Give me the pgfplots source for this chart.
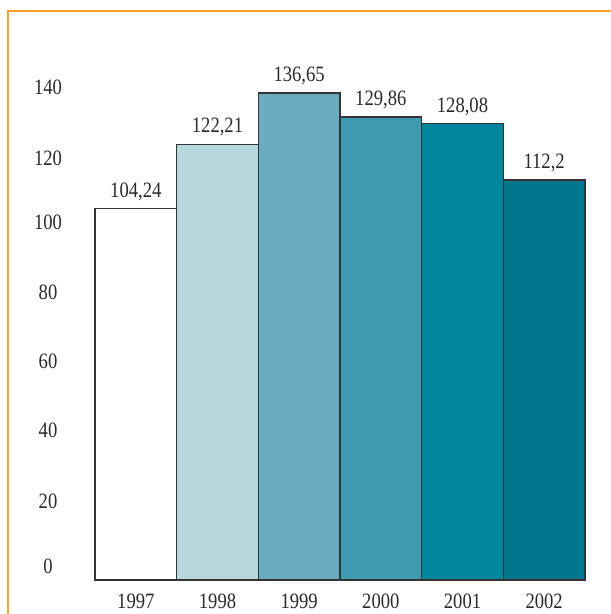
\documentclass[border=0pt]{standalone}
\usepackage{fontspec}
\setmainfont[FakeStretch=0.85]{Liberation Serif}
\usepackage{pgfplots}
\pgfplotsset{compat=1.18}
\definecolor{c1}{HTML}{FFFFFF}
\definecolor{c2}{HTML}{B8D8E0}
\definecolor{c3}{HTML}{6AADC0}
\definecolor{c4}{HTML}{3F9BB1}
\definecolor{c5}{HTML}{0087A0}
\definecolor{c6}{HTML}{00778C}
\definecolor{frameor}{HTML}{F7A12E}
\definecolor{txt}{HTML}{2A2A2A}
\definecolor{edge}{HTML}{333333}
\begin{document}
\fontsize{22}{24}\selectfont
\begin{tikzpicture}
\useasboundingbox (0,0) rectangle (611bp,614bp);
\draw[frameor, line width=2.5bp] (8bp,-10bp) -- (8bp,603bp) -- (630bp,603bp);
\begin{axis}[
  at={(95bp,34bp)}, anchor=south west,
  scale only axis, width=490bp, height=499bp,
  xmin=-0.5, xmax=5.5, ymin=0, ymax=140,
  axis line style={draw=none},
  major tick length=0pt,
  xtick={0,1,2,3,4,5},
  xticklabels={1997,1998,1999,2000,2001,2002},
  ytick={3.9,22.2,42.1,61.4,80.8,100.4,118.4,138.3},
  yticklabels={0,20,40,60,80,100,120,140},
  xticklabel style={anchor=center, yshift=-21bp, text=txt},
  yticklabel style={anchor=center, xshift=-47bp, text=txt},
  /pgf/number format/assume math mode=true,
  every axis plot/.append style={ybar, bar width=81.6bp, bar shift=0pt, draw=edge, line width=1.3bp},
  nodes near coords={\pgfmathprintnumber[use comma, precision=2]{\pgfplotspointmeta}},
  every node near coord/.append style={anchor=center, yshift=17bp, text=txt, /pgf/number format/assume math mode=true},
  clip=false,
]
\addplot[fill=c1] coordinates {(0,104.24)};
\addplot[fill=c2] coordinates {(1,122.21)};
\addplot[fill=c3] coordinates {(2,136.65)};
\addplot[fill=c4] coordinates {(3,129.86)};
\addplot[fill=c5] coordinates {(4,128.08)};
\addplot[fill=c6] coordinates {(5,112.2)};
\end{axis}
\end{tikzpicture}
\end{document}
